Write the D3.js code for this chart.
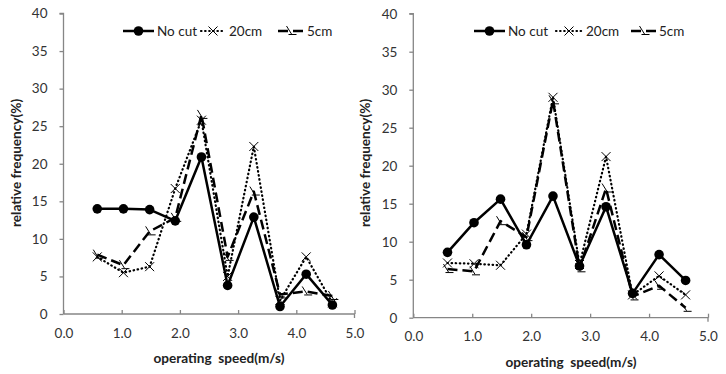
<!DOCTYPE html>
<html><head><meta charset="utf-8">
<script src="https://cdn.jsdelivr.net/npm/d3@7"></script>
<style>
body{margin:0;background:#fff;}
svg{display:block;font-family:Lato,"Liberation Sans",sans-serif;}
</style></head>
<body><svg id="c" width="726" height="374"></svg>
<script>
const speeds = [0.58, 1.03, 1.48, 1.92, 2.37, 2.82, 3.27, 3.72, 4.17, 4.62];
const leftNoCut = [14.0, 14.0, 13.9, 12.4, 20.9, 3.8, 12.9, 1.0, 5.3, 1.2];
const left20cm  = [7.6, 5.5, 6.3, 16.7, 25.8, 5.0, 22.3, 1.8, 7.6, 1.5];
const left5cm   = [7.9, 6.5, 11.0, 12.8, 26.5, 7.6, 16.3, 2.6, 3.0, 2.4];
const rightNoCut = [8.6, 12.5, 15.6, 9.6, 16.0, 6.8, 14.6, 3.2, 8.3, 4.9];
const right20cm  = [7.2, 7.1, 6.9, 11.0, 29.0, 7.0, 21.2, 3.0, 5.5, 3.0];
const right5cm   = [6.4, 6.1, 12.7, 10.6, 28.6, 6.5, 17.0, 2.8, 4.2, 1.3];
const seriesNames = ["No cut", "20cm", "5cm"];
const yTicks = [0, 5, 10, 15, 20, 25, 30, 35, 40];
const xTicks = [0, 1, 2, 3, 4, 5];
const xTitle = "operating\u00a0 speed(m/s)";
const yTitle = "relative frequency(%)";

const svg = d3.select("#c");

const styles = [
  {dash: null, width: 2.5, marker: "circle"},
  {dash: "0.5,3.6", width: 2.2, marker: "x"},
  {dash: "10,5", width: 2.5, marker: "dashm"}
];

function drawMarker(g, type, x, y) {
  if (type === "circle") {
    g.append("circle").attr("cx", x).attr("cy", y).attr("r", 4.8).attr("fill", "#000");
  } else if (type === "x") {
    g.append("path").attr("d", `M${x-4.5},${y-4.5}L${x+4.5},${y+4.5}M${x-4.5},${y+4.5}L${x+4.5},${y-4.5}`)
      .attr("stroke", "#000").attr("stroke-width", 1).attr("fill", "none");
  } else {
    g.append("path").attr("d", `M${x-4},${y-5}L${x+1},${y+3}M${x-2},${y+3.5}L${x+6},${y+3.5}`)
      .attr("stroke", "#000").attr("stroke-width", 1).attr("fill", "none");
  }
}

function chart(opt) {
  const g = svg.append("g");
  const x = d3.scaleLinear().domain([0, 5]).range([opt.x0, opt.x1]);
  const y = d3.scaleLinear().domain([0, 40]).range([opt.y0, opt.y1]);

  const ya = g.append("g").attr("transform", `translate(${opt.x0},0)`)
    .call(d3.axisLeft(y).tickValues(yTicks).tickSize(4).tickPadding(12));
  ya.select(".domain").attr("stroke", "#868686").attr("stroke-width", 1.3).attr("d", `M-4,${opt.y1}H0V${opt.y0}`);
  ya.selectAll(".tick line").attr("stroke", "#868686").attr("stroke-width", 1.3);
  ya.selectAll(".tick text").attr("fill", "#333").style("font-size", "13.5px").style("font-family", "Lato");

  const xa = g.append("g").attr("transform", `translate(0,${opt.y0})`)
    .call(d3.axisBottom(x).tickValues(xTicks).tickFormat(d3.format(".1f")).tickSize(-4).tickPadding(14));
  xa.select(".domain").attr("stroke", "#868686").attr("stroke-width", 1.3).attr("d", `M${opt.x0},0H${opt.x1}V4`);
  xa.selectAll(".tick line").attr("stroke", "#868686").attr("stroke-width", 1.3);
  xa.selectAll(".tick text").attr("fill", "#333").style("font-size", "13.5px").style("font-family", "Lato");

  g.append("text").attr("x", opt.xtx).attr("y", opt.y0 + 49).attr("text-anchor", "middle")
    .style("font-size", "13.6px").style("font-weight", "bold").attr("fill", "#222").text(xTitle);
  g.append("text").attr("transform", `translate(${opt.ytx},${opt.yty}) rotate(-90)`).attr("text-anchor", "middle")
    .style("font-size", "13.6px").style("font-weight", "bold").attr("fill", "#222").text(yTitle);

  const line = d3.line().x((d, i) => x(speeds[i])).y(d => y(d));
  const data = [opt.noCut, opt.c20, opt.c5];
  [2, 1, 0].forEach(k => {
    const st = styles[k];
    g.append("path").datum(data[k]).attr("d", line).attr("fill", "none")
      .attr("stroke", "#000").attr("stroke-width", st.width)
      .attr("stroke-dasharray", st.dash).attr("stroke-linejoin", "round")
      .attr("stroke-linecap", k === 1 ? "round" : "butt");
    data[k].forEach((v, i) => drawMarker(g, st.marker, x(speeds[i]), y(v)));
  });

  const ly = opt.ly;
  opt.leg.forEach((L, k) => {
    const st = styles[k];
    g.append("line").attr("x1", L[0]).attr("x2", L[1]).attr("y1", ly).attr("y2", ly)
      .attr("stroke", "#000").attr("stroke-width", st.width).attr("stroke-dasharray", st.dash)
      .attr("stroke-linecap", k === 1 ? "round" : "butt");
    drawMarker(g, st.marker, (L[0] + L[1]) / 2, ly);
    g.append("text").attr("x", L[2]).attr("y", ly + 5).style("font-size", "13.5px").attr("fill", "#222")
      .text(seriesNames[k]);
  });
}

chart({x0: 63.5, x1: 354.5, y0: 314, y1: 13.5, noCut: leftNoCut, c20: left20cm, c5: left5cm,
  xtx: 219, ytx: 21, yty: 163, ly: 31,
  leg: [[123, 154, 157], [201, 225, 229], [278, 303, 307]]});
chart({x0: 413.3, x1: 708, y0: 317.7, y1: 13.7, noCut: rightNoCut, c20: right20cm, c5: right5cm,
  xtx: 571, ytx: 370, yty: 163, ly: 31,
  leg: [[474, 505, 508], [556, 582, 586], [631, 656, 659]]});
</script></body></html>
